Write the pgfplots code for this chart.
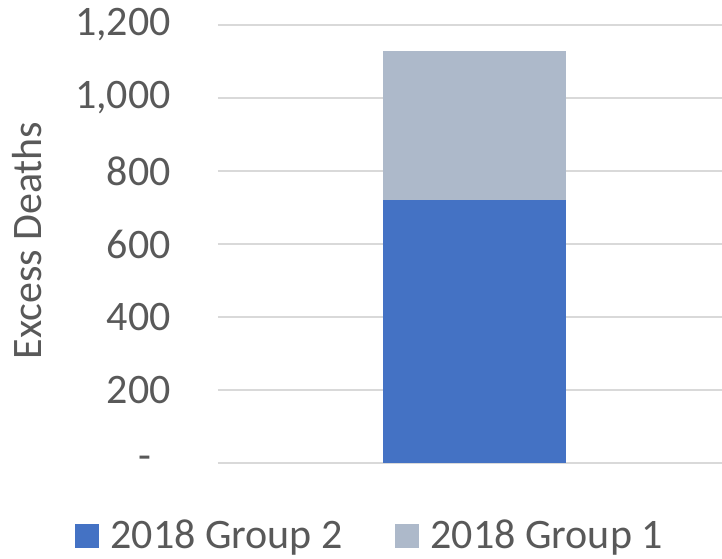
\documentclass[border=0pt]{standalone}
\usepackage{pgfplots}
\pgfplotsset{compat=1.18}
\usepackage{fontspec}
\setmainfont{Carlito}
\definecolor{txt}{HTML}{595959}
\definecolor{grd}{HTML}{D9D9D9}
\definecolor{cblue}{HTML}{4472C4}
\definecolor{cgray}{HTML}{ADB9CA}
\begin{document}
\begin{tikzpicture}
\path[use as bounding box] (-218pt,-95pt) rectangle (504pt,463pt);
\begin{axis}[
  at={(0pt,0pt)}, anchor=origin,
  scale only axis,
  width=504pt, height=438pt,
  xmin=0, xmax=1, ymin=0, ymax=1200,
  ybar stacked, bar width=183pt,
  axis line style={draw=none},
  xtick=\empty,
  ytick={0,200,400,600,800,1000,1200},
  yticklabels={{-\hspace*{19pt}},200,400,600,800,{1,000},{1,200}},
  major tick length=0pt,
  ymajorgrids, grid style={grd, line width=1.2pt},
  tick label style={font=\fontsize{42}{50}\selectfont, text=txt},
  yticklabel style={xshift=-47pt, anchor=east, inner sep=0pt},
  ylabel={Excess Deaths},
  ylabel style={font=\fontsize{42}{50}\selectfont, text=txt, at={(axis description cs:-0.349,0.508)}, anchor=south, inner sep=0pt},
  legend columns=2,
  legend style={draw=none, fill=none, at={(axis description cs:0.299,-0.1633)}, anchor=center,
    font=\fontsize{42}{50}\selectfont, text=txt,
    cells={anchor=base west},
    /tikz/every odd column/.style={column sep=12pt},
    /tikz/every even column/.style={column sep=52pt},
    nodes={inner sep=0pt}},
  legend image code/.code={\fill[#1, draw=none] (0pt,0pt) rectangle (24pt,24pt);},
]
\addplot+[fill=cblue, draw=none] coordinates {(0.509,721)};
\addplot+[fill=cgray, draw=none] coordinates {(0.509,408)};
\legend{2018 Group 2, 2018 Group 1}
\end{axis}
\end{tikzpicture}
\end{document}
